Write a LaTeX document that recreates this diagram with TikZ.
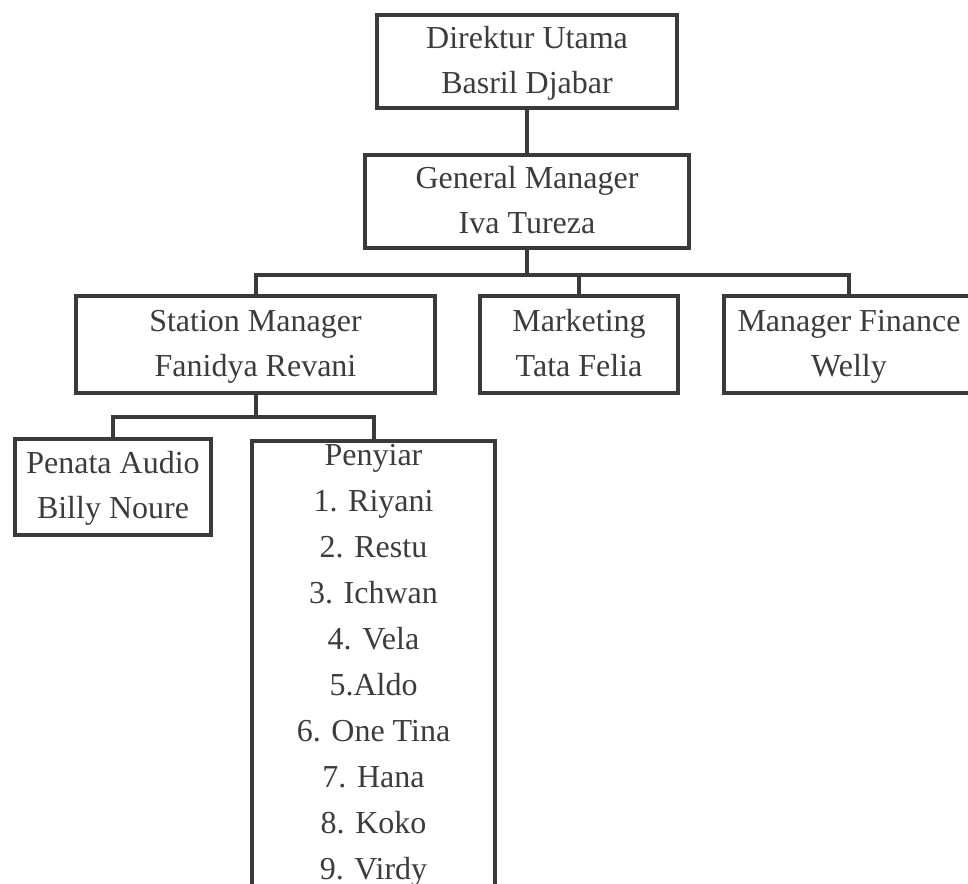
\documentclass[tikz,border=0pt]{standalone}
\usepackage{fontspec}
\setmainfont{Liberation Serif}
\definecolor{ln}{HTML}{3a3a3a}
\definecolor{txt}{HTML}{3c3c3c}
\newcommand{\twolines}[2]{\strut #1\\\strut #2}
\tikzset{
  box/.style={draw=ln, line width=4pt, inner sep=0pt, align=center, text=txt,
    font=\fontsize{32}{45}\selectfont},
  link/.style={draw=ln, line width=4pt, line join=miter}
}
\begin{document}
\begin{tikzpicture}[x=1pt,y=-1pt]
\useasboundingbox (0,0) rectangle (968,883);
\clip (0,0) rectangle (968,883);
\node[box, minimum width=300pt, minimum height=93pt] (dir) at (527,61.5) {\twolines{Direktur Utama}{Basril Djabar}};
\node[box, minimum width=324pt, minimum height=93pt] (gm) at (527,201.5) {\twolines{General Manager}{Iva Tureza}};
\node[box, minimum width=359pt, minimum height=97pt] (sm) at (255.5,344.5) {\twolines{Station Manager}{Fanidya Revani}};
\node[box, minimum width=198pt, minimum height=97pt] (mkt) at (579,344.5) {\twolines{Marketing}{Tata Felia}};
\node[box, minimum width=250pt, minimum height=97pt] (fin) at (849,344.5) {\twolines{Manager Finance}{Welly}};
\node[box, minimum width=196pt, minimum height=96pt] (pa) at (113,487) {\twolines{Penata Audio}{Billy Noure}};
\node[box, anchor=north, inner ysep=3pt, minimum width=243pt, font=\fontsize{32}{46}\selectfont] (pen) at (373.5,439)
  {Penyiar\\1. Riyani\\2. Restu\\3. Ichwan\\4. Vela\\5.Aldo\\6. One Tina\\7. Hana\\8. Koko\\9. Virdy};
\draw[link] (dir.south) -- (gm.north);
\draw[link] (gm.south) -- ++(0,25) coordinate (b1);
\draw[link] (sm.north) |- (b1) -| (fin.north);
\draw[link] (mkt.north) -- (mkt.north |- b1);
\draw[link] (sm.south) -- ++(0,22) coordinate (b2);
\draw[link] (pa.north) |- (b2) -| (pen.north);
\end{tikzpicture}
\end{document}
